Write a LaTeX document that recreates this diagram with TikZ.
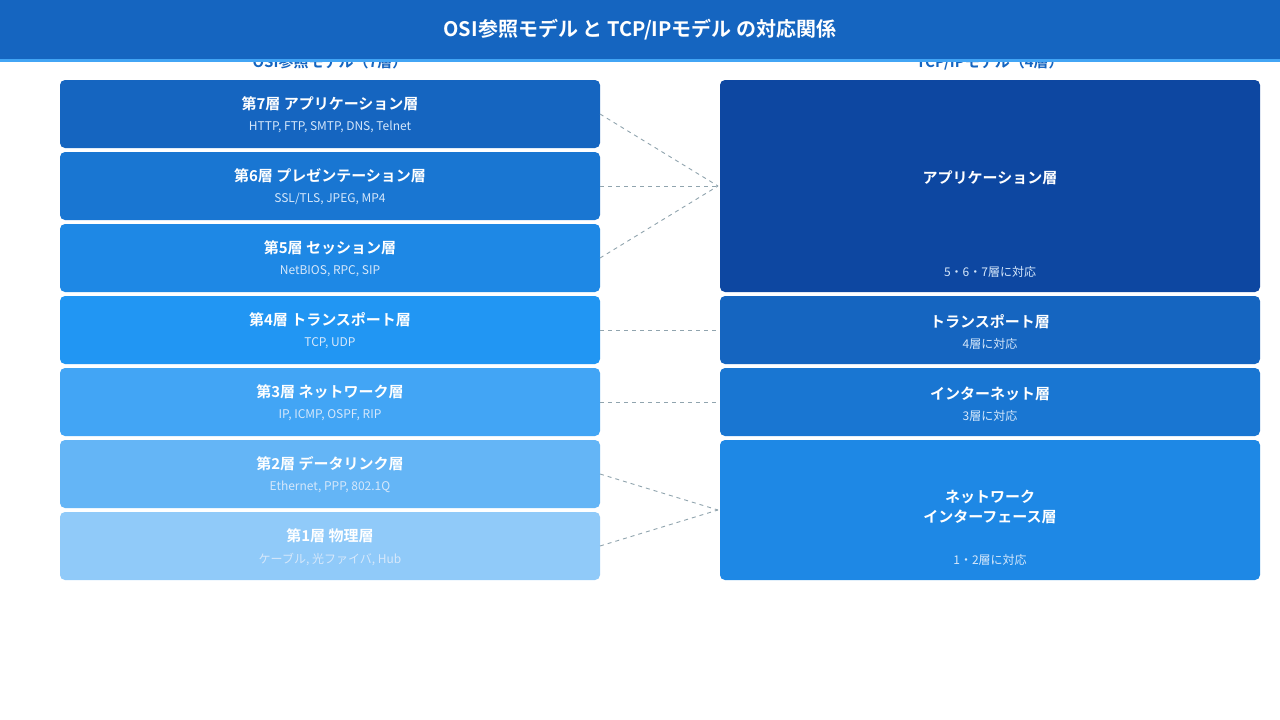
\documentclass[tikz,border=0pt]{standalone}
\usepackage{fontspec}
\setmainfont{Noto Sans CJK JP}
\newfontfamily\jpb{Noto Sans CJK JP Bold}
\begin{document}
\definecolor{cA}{HTML}{1565C0}\definecolor{cB}{HTML}{1976D2}\definecolor{cC}{HTML}{1E88E5}
\definecolor{cD}{HTML}{2196F3}\definecolor{cE}{HTML}{42A5F5}\definecolor{cF}{HTML}{64B5F6}
\definecolor{cG}{HTML}{90CAF9}\definecolor{cH}{HTML}{0D47A1}\definecolor{sub}{HTML}{D6E8FB}
\definecolor{dashgray}{HTML}{90A4AE}
\begin{tikzpicture}[x=1pt,y=-1pt,
 box/.style={rounded corners=5pt,draw=none},
 tt/.style={text=white,font=\jpb\fontsize{15}{18}\selectfont,align=center},
 st/.style={text=sub,font=\fontsize{12}{14}\selectfont},
 conn/.style={draw=dashgray,line width=0.9pt,dash pattern=on 4pt off 4pt}]
\useasboundingbox (0,0) rectangle (1280,720);
\fill[white] (0,0) rectangle (1280,720);
\node[font=\jpb\fontsize{15}{18}\selectfont,text=cA] (h1) at (330,62) {OSI参照モデル（7層）};
\node[font=\jpb\fontsize{15}{18}\selectfont,text=cA] (h2) at (990,62) {TCP/IPモデル（4層）};
\fill[cA] (0,0) rectangle (1280,59);
\fill[cE] (0,59) rectangle (1280,62);
\node[text=white,font=\jpb\fontsize{20}{24}\selectfont] (title) at (640,30) {OSI参照モデル と TCP/IPモデル の対応関係};
% left
\foreach \i/\c/\t/\s in {0/cA/第7層 アプリケーション層/{HTTP, FTP, SMTP, DNS, Telnet},
 1/cB/第6層 プレゼンテーション層/{SSL/TLS, JPEG, MP4},
 2/cC/第5層 セッション層/{NetBIOS, RPC, SIP},
 3/cD/第4層 トランスポート層/{TCP, UDP},
 4/cE/第3層 ネットワーク層/{IP, ICMP, OSPF, RIP},
 5/cF/第2層 データリンク層/{Ethernet, PPP, 802.1Q},
 6/cG/第1層 物理層/{ケーブル, 光ファイバ, Hub}}{
 \pgfmathsetmacro\yt{80+72*\i}
 \fill[\c,box] (60,\yt) rectangle (600,\yt+68);
 \coordinate (L\i) at (600,\yt+34);
 \node[tt] (lt\i) at (330,\yt+24) {\t};
 \node[st] (ls\i) at (330,\yt+47) {\s};
}
% right
\fill[cH,box] (720,80) rectangle (1260,292);
\node[tt] (ra) at (990,178) {アプリケーション層};
\node[st] (ras) at (990,272) {5・6・7層に対応};
\fill[cA,box] (720,296) rectangle (1260,364);
\node[tt] (rt) at (990,322) {トランスポート層};
\node[st] (rts) at (990,344) {4層に対応};
\fill[cB,box] (720,368) rectangle (1260,436);
\node[tt] (ri) at (990,394) {インターネット層};
\node[st] (ris) at (990,416) {3層に対応};
\fill[cC,box] (720,440) rectangle (1260,580);
\node[tt] (rn) at (990,507) {ネットワーク\\[2pt]インターフェース層};
\node[st] (rns) at (990,560) {1・2層に対応};
\coordinate (RA) at (718,186);
\coordinate (RT) at (718,330);
\coordinate (RI) at (718,402);
\coordinate (RN) at (718,510);
\draw[conn] (L0) -- (RA); \draw[conn] (L1) -- (RA); \draw[conn] (L2) -- (RA);
\draw[conn] (L3) -- (RT); \draw[conn] (L4) -- (RI);
\draw[conn] (L5) -- (RN); \draw[conn] (L6) -- (RN);
\end{tikzpicture}
\end{document}
